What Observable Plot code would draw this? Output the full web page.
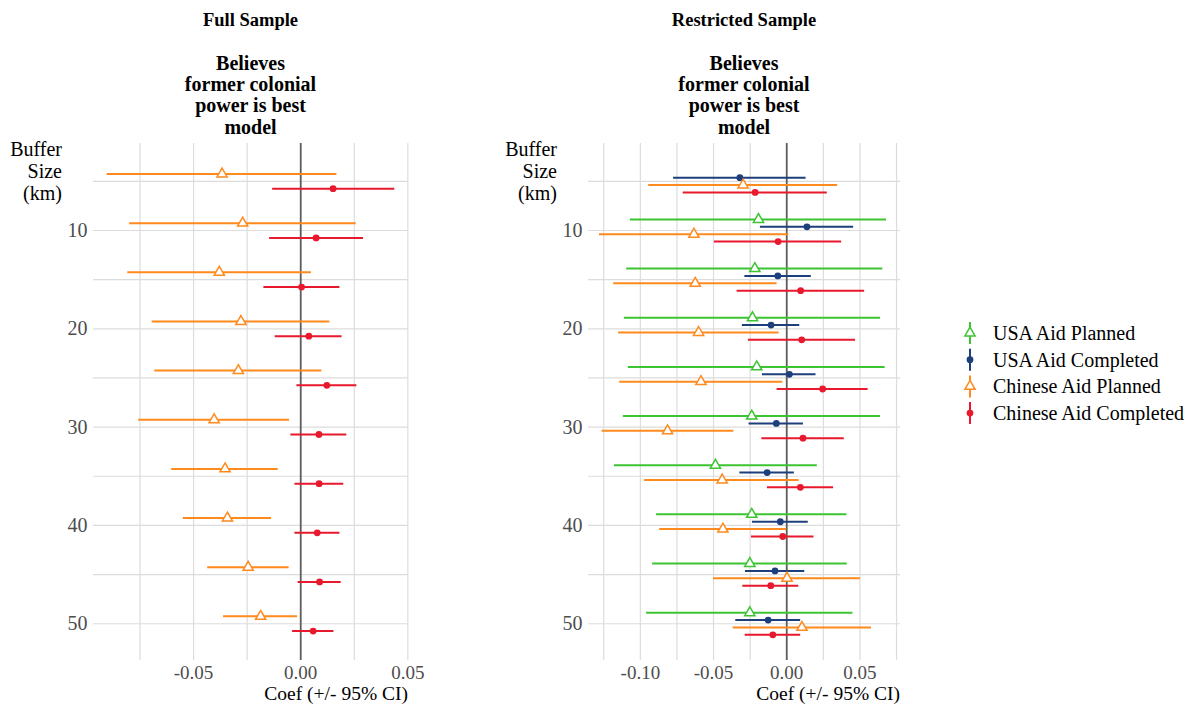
<!DOCTYPE html>
<html>
<head>
<meta charset="utf-8">
<script src="https://cdn.jsdelivr.net/npm/d3@7"></script>
<script src="https://cdn.jsdelivr.net/npm/@observablehq/plot@0.6"></script>
<style>
  html, body { margin: 0; padding: 0; background: #fff; }
  #root { position: relative; width: 1199px; height: 707px; background: #fff; font-family: "Liberation Serif", "Times New Roman", serif; color: #000; overflow: hidden; }
  #root svg, #root svg text { font-family: "Liberation Serif", "Times New Roman", serif !important; }
  .abs { position: absolute; }
  .title1 { font-weight: bold; font-size: 18.5px; line-height: 18.5px; text-align: center; width: 320px; }
  .title2 { font-weight: bold; font-size: 20px; line-height: 21.4px; text-align: center; width: 320px; }
  .ytitle { font-size: 20px; line-height: 21.8px; text-align: right; width: 80px; }
  .xtitle { font-size: 19.5px; line-height: 14px; text-align: right; width: 200px; white-space: nowrap; }
</style>
</head>
<body>
<div id="root"></div>
<script>
// ---- Data ----
const sizes = [5, 10, 15, 20, 25, 30, 35, 40, 45, 50];
const seriesNames = ["USA Aid Planned", "USA Aid Completed", "Chinese Aid Planned", "Chinese Aid Completed"];
const seriesColors = ["#3cc433", "#1d3f7c", "#ff8a1e", "#e8192d"];
const seriesPlanned = [true, false, true, false];

const panelTitles = ["Full Sample", "Restricted Sample"];
const subTitle = ["Believes", "former colonial", "power is best", "model"];
const yTitle = ["Buffer", "Size", "(km)"];
const xTitle = "Coef (+/- 95% CI)";
const yTicks = [10, 20, 30, 40, 50];
const yGridValues = [5, 10, 15, 20, 25, 30, 35, 40, 45, 50];
const fullXTicks = [-0.05, 0, 0.05];
const fullXGrid = [-0.075, -0.05, -0.025, 0, 0.025, 0.05];
const restXTicks = [-0.10, -0.05, 0, 0.05];
const restXGrid = [-0.125, -0.10, -0.075, -0.05, -0.025, 0, 0.025, 0.05, 0.075];

// Full sample
const fullChinaPlannedEst = [-0.0367, -0.0271, -0.0380, -0.0279, -0.0291, -0.0404, -0.0353, -0.0342, -0.0245, -0.0187];
const fullChinaPlannedLo  = [-0.0903, -0.0798, -0.0807, -0.0693, -0.0681, -0.0756, -0.0602, -0.0548, -0.0434, -0.0360];
const fullChinaPlannedHi  = [0.0169, 0.0259, 0.0050, 0.0136, 0.0099, -0.0052, -0.0105, -0.0136, -0.0054, -0.0015];
const fullChinaCompletedEst = [0.0151, 0.0072, 0.0004, 0.0038, 0.0122, 0.0085, 0.0086, 0.0077, 0.0088, 0.0058];
const fullChinaCompletedLo  = [-0.0131, -0.0145, -0.0172, -0.0119, -0.0018, -0.0046, -0.0027, -0.0027, -0.0012, -0.0038];
const fullChinaCompletedHi  = [0.0439, 0.0293, 0.0183, 0.0193, 0.0262, 0.0215, 0.0201, 0.0183, 0.0189, 0.0155];

// Restricted sample
const restUsaPlannedEst = [null, -0.0193, -0.0218, -0.0234, -0.0205, -0.0239, -0.0487, -0.0239, -0.0252, -0.0252];
const restUsaPlannedLo  = [null, -0.1068, -0.1093, -0.1109, -0.1082, -0.1116, -0.1177, -0.0889, -0.0916, -0.0957];
const restUsaPlannedHi  = [null, 0.0682, 0.0656, 0.0641, 0.0672, 0.0641, 0.0209, 0.0411, 0.0413, 0.0452];
const restUsaCompletedEst = [-0.0320, 0.0138, -0.0061, -0.0107, 0.0018, -0.0071, -0.0134, -0.0044, -0.0080, -0.0127];
const restUsaCompletedLo  = [-0.0773, -0.0180, -0.0286, -0.0303, -0.0166, -0.0257, -0.0320, -0.0234, -0.0282, -0.0348];
const restUsaCompletedHi  = [0.0132, 0.0457, 0.0168, 0.0089, 0.0200, 0.0114, 0.0052, 0.0147, 0.0123, 0.0095];
const restChinaPlannedEst = [-0.0298, -0.0634, -0.0625, -0.0602, -0.0586, -0.0814, -0.0441, -0.0436, 0.0002, 0.0104];
const restChinaPlannedLo  = [-0.0943, -0.1279, -0.1182, -0.1148, -0.1141, -0.1261, -0.0971, -0.0868, -0.0500, -0.0366];
const restChinaPlannedHi  = [0.0348, 0.0014, -0.0066, -0.0052, -0.0027, -0.0361, 0.0084, 0.0000, 0.0504, 0.0579];
const restChinaCompletedEst = [-0.0216, -0.0059, 0.0095, 0.0102, 0.0245, 0.0111, 0.0093, -0.0027, -0.0109, -0.0095];
const restChinaCompletedLo  = [-0.0707, -0.0494, -0.0339, -0.0262, -0.0066, -0.0170, -0.0132, -0.0241, -0.0300, -0.0284];
const restChinaCompletedHi  = [0.0277, 0.0375, 0.0532, 0.0470, 0.0556, 0.0393, 0.0320, 0.0186, 0.0082, 0.0095];

// ---- Build ----
const root = document.getElementById("root");
const dodgeWidth = 3;
const serif = "'Liberation Serif', 'Times New Roman', serif";

function buildRows(series) {
  const n = series.length;
  const rows = [];
  series.forEach((s, i) => {
    sizes.forEach((size, j) => {
      if (s.est[j] == null) return;
      rows.push({
        size,
        pos: size + (i - (n - 1) / 2) * dodgeWidth / n,
        est: s.est[j], lo: s.lo[j], hi: s.hi[j],
        name: s.name,
        planned: seriesPlanned[seriesNames.indexOf(s.name)]
      });
    });
  });
  return rows;
}

function panel({series, xDomain, xTicks, xGrid, width, marginLeft, marginRight}) {
  const rows = buildRows(series);
  return Plot.plot({
    width, height: 707,
    marginLeft, marginRight, marginTop: 143, marginBottom: 47,
    style: {fontFamily: serif, fontSize: "20px", color: "#4d4d4d", background: "transparent", overflow: "visible"},
    x: {domain: xDomain},
    y: {domain: [1.15, 53.74], reverse: true},
    color: {domain: seriesNames, range: seriesColors},
    marks: [
      Plot.ruleX(xGrid, {stroke: "#dcdcdc", strokeWidth: 1.2}),
      Plot.ruleY(yGridValues, {stroke: "#dcdcdc", strokeWidth: 1.2}),
      Plot.ruleX([0], {stroke: "#5e5e5e", strokeWidth: 1.8}),
      Plot.ruleY(rows, {y: "pos", x1: "lo", x2: "hi", stroke: "name", strokeWidth: 2}),
      Plot.dot(rows.filter(d => !d.planned), {x: "est", y: "pos", fill: "name", r: 3.4}),
      Plot.dot(rows.filter(d => d.planned), {x: "est", y: "pos", symbol: "triangle", stroke: "name", fill: "white", r: 3.8, strokeWidth: 1.5}),
      Plot.axisX({ticks: xTicks, tickSize: 0, tickPadding: 5, tickFormat: d => d.toFixed(2), label: null, fontFamily: serif, fontSize: 19}),
      Plot.axisY({ticks: yTicks, tickSize: 0, tickPadding: 6, label: null, fontFamily: serif, fontSize: 20})
    ]
  });
}

const left = panel({
  series: [
    {name: "Chinese Aid Planned", est: fullChinaPlannedEst, lo: fullChinaPlannedLo, hi: fullChinaPlannedHi},
    {name: "Chinese Aid Completed", est: fullChinaCompletedEst, lo: fullChinaCompletedLo, hi: fullChinaCompletedHi}
  ],
  xDomain: [-0.0967, 0.0503], xTicks: fullXTicks, xGrid: fullXGrid,
  width: 460, marginLeft: 93, marginRight: 52
});
left.style.position = "absolute"; left.style.left = "0px"; left.style.top = "0px";
root.appendChild(left);

const right = panel({
  series: [
    {name: "USA Aid Planned", est: restUsaPlannedEst, lo: restUsaPlannedLo, hi: restUsaPlannedHi},
    {name: "USA Aid Completed", est: restUsaCompletedEst, lo: restUsaCompletedLo, hi: restUsaCompletedHi},
    {name: "Chinese Aid Planned", est: restChinaPlannedEst, lo: restChinaPlannedLo, hi: restChinaPlannedHi},
    {name: "Chinese Aid Completed", est: restChinaCompletedEst, lo: restChinaCompletedLo, hi: restChinaCompletedHi}
  ],
  xDomain: [-0.1354, 0.0777], xTicks: restXTicks, xGrid: restXGrid,
  width: 430, marginLeft: 88, marginRight: 30
});
right.style.position = "absolute"; right.style.left = "500px"; right.style.top = "0px";
root.appendChild(right);

// Text around panels
function addDiv(cls, html, css) {
  const d = document.createElement("div");
  d.className = "abs " + cls;
  d.innerHTML = html;
  Object.assign(d.style, css);
  root.appendChild(d);
}
const panelCenters = [250.5, 744];
const yTitleRight = [62, 557];
const panelRight = [408, 900];
[0, 1].forEach(i => {
  addDiv("title1", panelTitles[i], {left: (panelCenters[i] - 160) + "px", top: "11px"});
  addDiv("title2", subTitle.join("<br>"), {left: (panelCenters[i] - 160) + "px", top: "52.5px"});
  addDiv("ytitle", yTitle.join("<br>"), {left: (yTitleRight[i] - 80) + "px", top: "139px"});
  addDiv("xtitle", xTitle, {left: (panelRight[i] - 200) + "px", top: "687px"});
});

// Legend
const leg = d3.create("svg").attr("width", 259).attr("height", 130)
  .style("position", "absolute").style("left", "940px").style("top", "310px");
seriesNames.forEach((name, i) => {
  const base = 30 + i * 26.7;
  const cy = base - 7;
  const g = leg.append("g");
  g.append("line").attr("x1", 30).attr("x2", 30).attr("y1", cy - 11).attr("y2", cy + 11)
    .attr("stroke", seriesColors[i]).attr("stroke-width", 2);
  if (seriesPlanned[i]) {
    g.append("path").attr("d", d3.symbol(d3.symbolTriangle, Math.PI * 3.8 * 3.8)())
      .attr("transform", `translate(30,${cy})`).attr("fill", "white")
      .attr("stroke", seriesColors[i]).attr("stroke-width", 1.5);
  } else {
    g.append("circle").attr("cx", 30).attr("cy", cy).attr("r", 3.4).attr("fill", seriesColors[i]);
  }
  g.append("text").attr("x", 53).attr("y", base).text(name)
    .attr("font-family", serif).attr("font-size", 20).attr("fill", "#000");
});
root.appendChild(leg.node());
</script>
</body>
</html>
